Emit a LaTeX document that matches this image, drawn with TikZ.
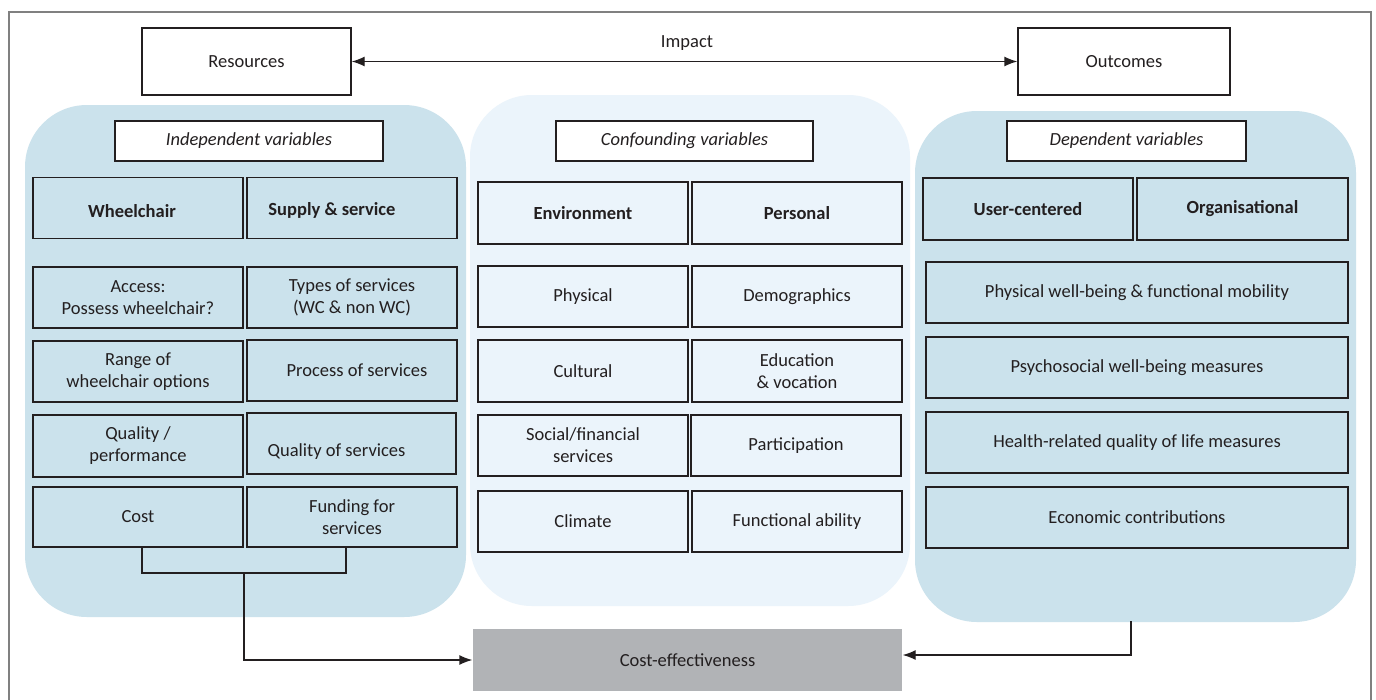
\documentclass[tikz,border=0pt]{standalone}
\usepackage{fontspec}
\setmainfont{Carlito}
\usetikzlibrary{arrows.meta}
\definecolor{regblue}{RGB}{203,226,236}
\definecolor{regpale}{RGB}{235,244,251}
\definecolor{cegray}{RGB}{177,179,182}
\definecolor{txt}{RGB}{35,31,32}
\definecolor{framegray}{RGB}{128,128,128}
\tikzset{
  region/.style={fill=#1, draw=none, rounded corners=62pt},
  cell/.style={draw=txt, line width=1.3pt, rectangle, inner sep=0pt, align=center,
    text=txt, font=\fontsize{18.5}{22}\selectfont, minimum height=61pt, minimum width=210pt},
  hdr/.style={cell, fill=white, minimum height=40pt, font=\fontsize{18.5}{22}\selectfont\itshape},
  bcell/.style={cell, font=\fontsize{18.5}{22}\selectfont\bfseries},
  conn/.style={draw=txt, line width=1.3pt},
  tip/.style={-{Latex[length=13pt,width=10pt]}},
}
\begin{document}
\begin{tikzpicture}[x=1pt,y=-1pt]
\useasboundingbox (0,0) rectangle (1376,699);
\fill[white] (0,0) rectangle (1376,699);
% outer frame (bottom open)
\draw[framegray, line width=1.5pt] (9,705) -- (9,12) -- (1371,12) -- (1371,705);

% regions
\path[region=regblue] (25,105) rectangle (466,617);
\path[region=regpale] (470,95) rectangle (910,606);
\path[region=regblue] (915,111) rectangle (1356,622);
\coordinate (rrbot) at (1131,621);

% top
\node[cell, fill=white, minimum width=209pt, minimum height=67pt] (res) at (246.5,61.5) {Resources};
\node[cell, fill=white, minimum width=212pt, minimum height=67pt] (out) at (1124,61.5) {Outcomes};
\node[text=txt, font=\fontsize{18.5}{22}\selectfont, inner sep=0pt] (imp) at (687,43) {Impact};
\draw[conn, {Latex[length=13pt,width=10pt]}-{Latex[length=13pt,width=10pt]}] (res.east) -- (out.west);

% independent
\node[hdr, minimum width=268pt] (ih) at (249,141) {Independent variables};
\node[bcell] (wc) at (138,208) {\hspace*{-12pt}\raisebox{-3pt}[\height][\depth]{Wheelchair}};
\node[bcell] (ss) at (352,208) {\hspace*{-40pt}\raisebox{-2pt}[\height][\depth]{Supply \& service}};
\node[cell] (a1) at (138,297.5) {Access:\\Possess wheelchair?};
\node[cell] (b1) at (352,297.5) {Types of services\\(WC \& non WC)};
\node[cell] (a2) at (138,371.5) {Range of\\wheelchair options};
\node[cell] (b2) at (352,370.5) {\hspace*{10pt}Process of services};
\node[cell, minimum height=62pt] (a3) at (138,446) {Quality /\\performance};
\node[cell, minimum width=209pt] (b3) at (351.5,443.5) {\hspace*{-30pt}\raisebox{-8pt}[\height][\depth]{Quality of services}};
\node[cell, minimum height=60pt] (a4) at (138,517) {Cost};
\node[cell, minimum height=60pt] (b4) at (352,517) {Funding for\\services};

% confounding
\node[hdr, minimum width=257pt] (ch) at (684.5,141) {Confounding variables};
\node[bcell, minimum height=62pt] (env) at (583,213) {Environment};
\node[bcell, minimum height=62pt] (per) at (797,213) {Personal};
\node[cell] (c1) at (583,296.5) {Physical};
\node[cell] (d1) at (797,296.5) {Demographics};
\node[cell, minimum height=62pt] (c2) at (583,371) {Cultural};
\node[cell, minimum height=62pt] (d2) at (797,371) {Education\\\& vocation};
\node[cell] (c3) at (583,445.5) {Social/financial\\services};
\node[cell] (d3) at (796,445.5) {Participation};
\node[cell] (c4) at (583,521.5) {Climate};
\node[cell] (d4) at (797,521.5) {Functional ability};

% dependent
\node[hdr, minimum width=239pt] (dh) at (1126.5,141) {Dependent variables};
\node[bcell, minimum height=62pt] (uc) at (1028,209) {User-centered};
\node[bcell, minimum height=62pt, minimum width=211pt] (org) at (1242.5,209) {Organisational};
\node[cell, minimum width=422pt] (e1) at (1137,292.5) {Physical well-being \& functional mobility};
\node[cell, minimum width=422pt] (e2) at (1137,367.5) {Psychosocial well-being measures};
\node[cell, minimum width=422pt] (e3) at (1137,442.5) {Health-related quality of life measures};
\node[cell, minimum width=422pt] (e4) at (1137,517.5) {Economic contributions};

% cost-effectiveness
\node[cell, draw=none, fill=cegray, minimum width=429pt, minimum height=62pt] (ce) at (687.5,660) {Cost-effectiveness};

% connectors
\coordinate (brk) at (244,573);
\draw[conn] ([xshift=4pt]a4.south) |- (brk) -| ([xshift=-6pt]b4.south);
\draw[conn, tip] (brk) |- (ce.west);
\draw[conn, tip] (rrbot) |- ([yshift=5pt]ce.east);
\end{tikzpicture}
\end{document}
